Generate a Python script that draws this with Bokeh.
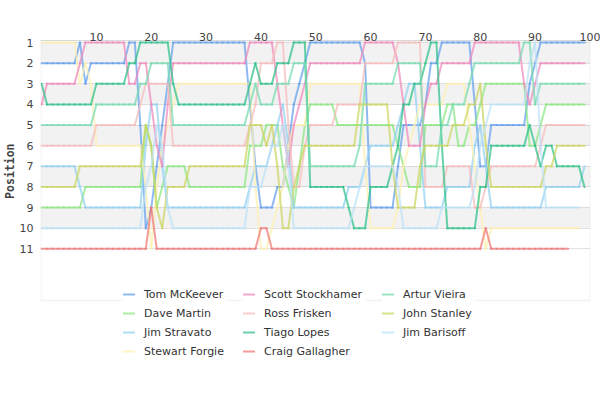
from bokeh.plotting import figure
from bokeh.models import Range1d, FixedTicker, Legend, LegendItem, Title, BoxAnnotation
from bokeh.embed import file_html
from bokeh.resources import INLINE

# Lap-by-lap race positions (lap 0 .. last lap)
tom_mckeever = [2,2,2,2,2,2,2,1,3,2,
                2,2,2,2,2,2,1,1,5,10,
                9,7,5,3,1,1,1,1,1,1,
                1,1,1,1,1,1,1,1,4,7,
                9,9,9,8,8,6,4,3,2,1,
                1,1,1,1,1,1,1,1,1,2,
                9,9,9,9,9,7,5,5,5,5,
                4,2,2,1,1,1,1,1,1,4,
                7,7,5,5,5,5,5,5,5,3,
                2,1,1,1,1,1,1,1,1,1]
scott_stockhamer = [4,3,3,3,3,3,3,2,1,1,
                    1,1,1,1,1,1,3,3,2,2,
                    4,6,7,4,2,2,2,2,2,2,
                    2,2,2,2,2,2,2,2,1,1,
                    1,1,1,3,5,7,5,4,3,2,
                    2,2,2,2,2,2,2,2,2,1,
                    1,1,1,1,1,2,4,6,6,6,
                    4,3,3,2,2,2,2,2,2,1,
                    1,1,1,1,1,1,1,1,3,4,
                    3,2,2,2,2,2,2,2,2,2]
artur_vieira = [5,5,5,5,5,5,5,5,5,5,
                4,4,4,4,4,4,4,4,3,3,
                2,2,2,2,5,5,5,5,5,5,
                5,5,5,5,5,5,5,5,4,3,
                4,4,4,3,3,3,2,2,2,7,
                7,7,7,7,7,7,7,7,6,3,
                3,3,3,3,3,2,2,2,2,2,
                7,7,7,5,5,4,4,4,3,2,
                2,2,2,2,2,2,2,2,1,1,
                4,3,3,3,3,3,3,3,3,3]
dave_martin = [9,9,9,9,9,9,9,9,8,8,
               8,8,8,8,8,8,8,8,8,5,
               6,9,8,7,7,7,7,8,8,8,
               8,8,8,8,8,8,8,8,6,6,
               6,5,5,5,7,8,9,7,5,4,
               4,4,4,4,5,5,5,5,5,5,
               5,5,5,5,5,6,7,8,8,8,
               5,5,5,5,4,4,6,6,5,5,
               4,3,3,3,3,3,3,3,3,6,
               6,5,4,4,4,4,4,4,4,4]
ross_frisken = [6,6,6,6,6,6,6,6,6,6,
                5,5,5,5,5,5,5,5,4,3,
                3,3,3,3,6,6,6,6,6,6,
                6,6,6,6,6,6,6,6,5,4,
                2,2,2,1,1,5,8,8,6,5,
                5,5,5,5,4,4,4,4,4,2,
                2,2,2,2,2,1,1,1,1,1,
                8,8,8,8,7,7,7,7,7,9,
                9,8,7,7,7,7,7,7,7,7,
                7,6,5,5,5,5,5,5,5,5]
john_stanley = [8,8,8,8,8,8,8,7,7,7,
                7,7,7,7,7,7,7,7,7,5,
                6,9,10,8,8,8,8,7,7,7,
                7,7,7,7,7,7,7,7,5,5,
                5,6,5,7,10,10,8,7,6,6,
                6,6,6,6,6,6,6,6,4,4,
                4,4,4,4,7,9,9,9,9,7,
                6,6,6,6,6,5,5,5,4,4,
                3,6,8,8,8,8,8,8,8,8,
                8,8,7,7,6,6,6,6,6,6]
jim_stravato = [7,7,7,7,7,7,7,8,9,9,
                9,9,9,9,9,9,9,9,9,6,
                4,4,7,9,9,9,9,9,9,9,
                9,9,9,9,9,9,9,9,8,7,
                7,7,6,5,4,6,9,9,9,9,
                9,9,9,9,9,9,8,8,8,7,
                6,6,6,6,6,5,4,3,3,6,
                9,9,9,9,8,8,8,8,8,6,
                5,7,9,9,9,9,9,9,9,9,
                9,9,8,8,8,8,8,8,8,7]
tiago_lopes = [3,4,4,4,4,4,4,4,4,4,
               3,3,3,3,3,3,2,2,1,1,
               1,1,1,1,3,4,4,4,4,4,
               4,4,4,4,4,4,4,4,3,2,
               3,3,3,2,2,2,1,1,1,8,
               8,8,8,8,8,8,9,10,10,10,
               8,8,8,8,7,6,4,4,3,3,
               2,1,1,6,10,10,10,10,10,10,
               8,8,6,6,6,6,6,6,6,5,
               6,7,6,6,7,7,7,7,7,8]
jim_barisoff = [10,10,10,10,10,10,10,10,10,10,
                10,10,10,10,10,10,10,10,10,8,
                7,5,6,9,10,10,10,10,10,10,
                10,10,10,10,10,10,10,10,8,8,
                8,7,6,6,5,7,10,10,10,10,
                10,10,10,10,10,10,10,9,8,7,
                7,7,7,7,7,8,10,10,10,10,
                10,10,10,9,9,9,9,9,9,8,
                6,5,4,4,4,4,4,4,4,2,
                1,6,9,9,9,9,9,9,9]
stewart_forgie = [1,1,1,1,1,1,1,3,2,3,
                  6,6,6,6,6,6,6,6,6,8,
                  11,8,6,5,4,3,3,3,3,3,
                  3,3,3,3,3,3,3,3,3,8,
                  11,11,10,9,8,6,5,5,5,3,
                  3,3,3,3,3,3,3,3,3,7,
                  10,10,10,10,10,9,7,6,5,4,
                  4,4,4,4,3,3,3,3,5,7,
                  9,11,10,10,10,10,10,10,10,10,
                  10,10,10,10,10,10,10,10,10]
craig_gallagher = [11,11,11,11,11,11,11,11,11,11,
                   11,11,11,11,11,11,11,11,11,11,
                   9,11,11,11,11,11,11,11,11,11,
                   11,11,11,11,11,11,11,11,11,11,
                   10,10,11,11,11,11,11,11,11,11,
                   11,11,11,11,11,11,11,11,11,11,
                   11,11,11,11,11,11,11,11,11,11,
                   11,11,11,11,11,11,11,11,11,11,
                   11,10,11,11,11,11,11,11,11,11,
                   11,11,11,11,11,11,11]

position_ticks = [1,2,3,4,5,6,7,8,9,10,11]
lap_ticks = [10,20,30,40,50,60,70,80,90,100]

# legend columns, each read top-to-bottom
legend_columns = [
    [("Tom McKeever", tom_mckeever, "#63a0eb"),
     ("Dave Martin", dave_martin, "#8be680"),
     ("Jim Stravato", jim_stravato, "#90d0f0"),
     ("Stewart Forgie", stewart_forgie, "#fff0b0")],
    [("Scott Stockhamer", scott_stockhamer, "#f088bb"),
     ("Ross Frisken", ross_frisken, "#f6bbbb"),
     ("Tiago Lopes", tiago_lopes, "#2cc088"),
     ("Craig Gallagher", craig_gallagher, "#f07676")],
    [("Artur Vieira", artur_vieira, "#76dbb0"),
     ("John Stanley", john_stanley, "#cbd660"),
     ("Jim Barisoff", jim_barisoff, "#bbe0f6")],
]
# legend column placement (px from the plot area's bottom-left) and label widths
legend_x = [83, 203, 342]
legend_y = [21, 21, 40]
legend_label_w = [83, 102, 72]

p = figure(width=600, height=390, output_backend="svg", toolbar_location=None,
           x_range=Range1d(-0.2, 100.1), y_range=Range1d(17.38, 0.9),
           x_axis_location="above",
           min_border_left=40, min_border_right=10, min_border_top=40, min_border_bottom=10)

p.outline_line_color = None
p.xgrid.visible = False
p.ygrid.ticker = FixedTicker(ticks=position_ticks)
p.ygrid.grid_line_color = "#e2e2e2"

# alternating bands between position lines
for t in position_ticks[0:-1:2]:
    p.add_layout(BoxAnnotation(top=t, bottom=t + 1, fill_color="#000000", fill_alpha=0.05,
                               line_color=None, level="underlay"))
# plot-area border (ends below position 13.5)
p.add_layout(BoxAnnotation(bottom=13.5, fill_alpha=0, line_color="#d9d9d9", line_width=2,
                           level="underlay"))

p.xaxis.ticker = FixedTicker(ticks=lap_ticks)
p.yaxis.ticker = FixedTicker(ticks=position_ticks)
for ax in (p.xaxis[0], p.yaxis[0]):
    ax.major_tick_out = 0
    ax.major_tick_in = 0
    ax.minor_tick_out = 0
    ax.minor_tick_in = 0
    ax.major_label_text_font = "DejaVu Sans"
    ax.major_label_text_font_size = "11px"
    ax.major_label_text_color = "#444444"
p.xaxis.axis_line_color = "#d9d9d9"
p.yaxis.axis_line_color = None
p.yaxis.major_label_standoff = 7
p.xaxis.major_label_standoff = 0

for col, lx, ly, lw in zip(legend_columns, legend_x, legend_y, legend_label_w):
    items = []
    for name, pos, color in col:
        laps = list(range(len(pos)))
        r = p.segment(x0=laps[:-1], y0=pos[:-1], x1=laps[1:], y1=pos[1:],
                      line_color=color, line_width=2, line_alpha=0.72, line_cap="square")
        items.append(LegendItem(label=name, renderers=[r]))
    legend = Legend(items=items, location=(lx, ly),
                    border_line_color=None, background_fill_color="white", background_fill_alpha=1.0,
                    label_text_font="DejaVu Sans", label_text_font_size="11px",
                    label_text_color="#333333",
                    glyph_width=12, glyph_height=16, label_height=16, label_width=lw,
                    label_standoff=9, spacing=3, padding=8)
    p.add_layout(legend)

p.add_layout(Title(text="Position", align="right", offset=103, standoff=0,
                   text_font="DejaVu Sans Mono", text_font_style="bold",
                   text_font_size="11.5px", text_color="#444444"), "left")

open("out.html", "w").write(file_html(p, INLINE))
